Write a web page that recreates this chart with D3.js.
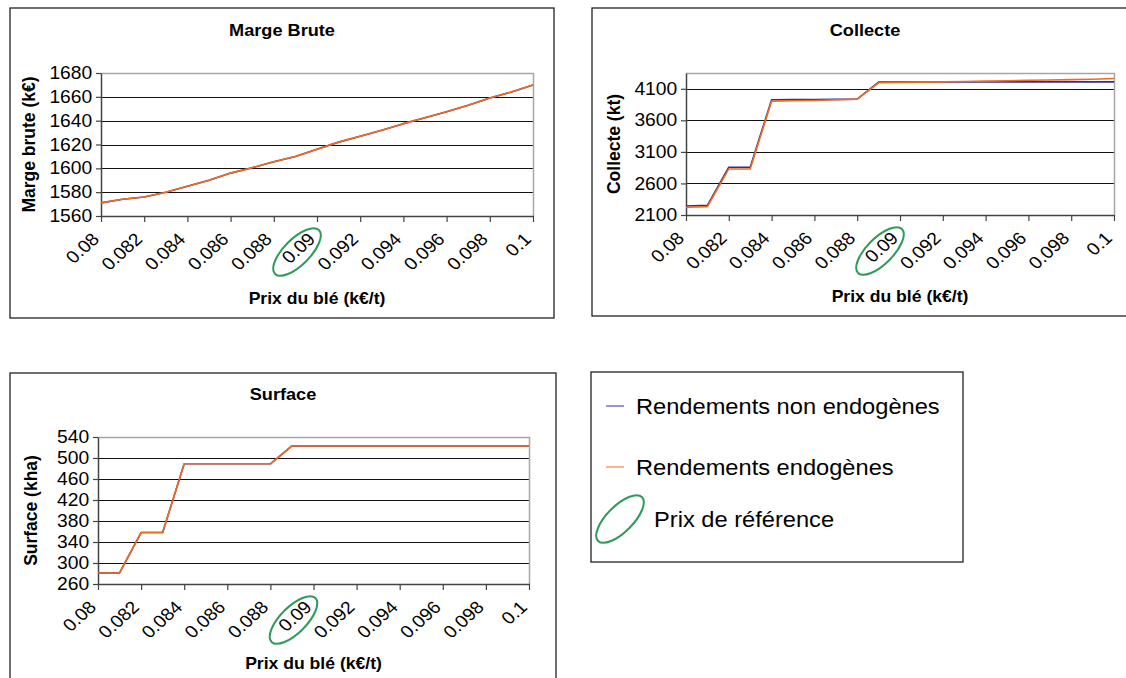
<!DOCTYPE html>
<html lang="fr">
<head>
  <meta charset="UTF-8" />
  <title>Prix du blé - Marge brute, Collecte, Surface</title>
  <script src="https://d3js.org/d3.v7.min.js"></script>
  <style>
    body {
      margin: 0;
      background: #fff;
      font-family: 'Liberation Sans', Arial, sans-serif;
    }
    svg text { font-family: 'Liberation Sans', Arial, sans-serif; fill: #000; }
  </style>
</head>
<body>
  <svg id="chart" width="1126" height="678"></svg>

  <script>
    // --- data ---
    const prix = [0.080, 0.081, 0.082, 0.083, 0.084, 0.085, 0.086, 0.087, 0.088, 0.089, 0.090,
                  0.091, 0.092, 0.093, 0.094, 0.095, 0.096, 0.097, 0.098, 0.099, 0.100];
    const xTicks = [0.08, 0.082, 0.084, 0.086, 0.088, 0.09, 0.092, 0.094, 0.096, 0.098, 0.1];
    const xTickLabels = ["0.08", "0.082", "0.084", "0.086", "0.088", "0.09", "0.092", "0.094", "0.096", "0.098", "0.1"];
    const prixReference = 0.09;

    const margeNonEndo = [1571, 1574, 1576, 1580, 1585, 1590, 1596, 1600.5, 1605.5, 1610, 1616,
                          1622, 1627, 1632, 1637.5, 1642.5, 1647.5, 1653, 1659, 1664, 1670];
    const margeEndo    = [1571, 1574, 1576, 1580, 1585, 1590, 1596, 1600.5, 1605.5, 1610, 1616,
                          1622, 1627, 1632, 1637.5, 1642.5, 1647.5, 1653, 1659, 1664, 1670];
    const margeTicks = [1560, 1580, 1600, 1620, 1640, 1660, 1680];

    const collecteNonEndo = [2243, 2254, 2857, 2857, 3925, 3928, 3930, 3932, 3936, 4206, 4207,
                             4207, 4208, 4208, 4208, 4209, 4209, 4209, 4210, 4210, 4210];
    const collecteEndo    = [2222, 2232, 2830, 2830, 3905, 3910, 3915, 3925, 3936, 4195, 4200,
                             4205, 4210, 4215, 4222, 4228, 4234, 4240, 4245, 4250, 4262];
    const collecteTicks = [2100, 2600, 3100, 3600, 4100];

    const surfaceNonEndo = [281, 281, 358, 358, 489, 489, 489, 489, 489, 523, 523,
                            523, 523, 523, 523, 523, 523, 523, 523, 523, 523];
    const surfaceEndo    = [281, 281, 358, 358, 489, 489, 489, 489, 489, 523, 523,
                            523, 523, 523, 523, 523, 523, 523, 523, 523, 523];
    const surfaceTicks = [260, 300, 340, 380, 420, 460, 500, 540];

    const seriesNames = ["Rendements non endogènes", "Rendements endogènes"];
    const colors = ["#2e2e9e", "#f26a1b"];
    const green = "#2f9a5c";

    // the original picture is a little wider than Arial, stretch text horizontally
    const SX = 1.1;

    // --- layout ---
    const panels = [
      { title: "Marge Brute", yLabel: "Marge brute (k€)", series: [margeNonEndo, margeEndo],
        yTicks: margeTicks, yDomain: [1560, 1680],
        frame: { x0: 10, y0: 8, x1: 554, y1: 318 }, plot: { x0: 101, y0: 73, x1: 533, y1: 216 },
        titleY: 36, yLabelX: 28, xLabelY: 304 },
      { title: "Collecte", yLabel: "Collecte (kt)", series: [collecteNonEndo, collecteEndo],
        yTicks: collecteTicks, yDomain: [2100, 4350],
        frame: { x0: 592, y0: 8, x1: 1140, y1: 316 }, plot: { x0: 686, y0: 73, x1: 1114, y1: 215 },
        titleY: 36, yLabelX: 613, xLabelY: 302 },
      { title: "Surface", yLabel: "Surface (kha)", series: [surfaceNonEndo, surfaceEndo],
        yTicks: surfaceTicks, yDomain: [260, 540],
        frame: { x0: 10, y0: 373, x1: 556, y1: 700 }, plot: { x0: 98, y0: 437, x1: 529, y1: 584 },
        titleY: 400, yLabelX: 30, xLabelY: 669 }
    ];

    const svg = d3.select("#chart");

    function label(parent, x, y, str, size, weight, anchor, rot) {
      return parent.append("text")
        .attr("transform", `translate(${x},${y}) scale(${SX},1)` + (rot ? ` rotate(${rot})` : ""))
        .attr("text-anchor", anchor || "middle")
        .attr("font-size", size)
        .attr("font-weight", weight || "normal")
        .text(str);
    }

    panels.forEach(p => {
      const g = svg.append("g");

      g.append("rect")
        .attr("x", p.frame.x0).attr("y", p.frame.y0)
        .attr("width", p.frame.x1 - p.frame.x0).attr("height", p.frame.y1 - p.frame.y0)
        .attr("fill", "#fff").attr("stroke", "#222").attr("stroke-width", 1.3);

      const x = d3.scaleLinear().domain([0.08, 0.1]).range([p.plot.x0, p.plot.x1]);
      const y = d3.scaleLinear().domain(p.yDomain).range([p.plot.y1, p.plot.y0]);

      // gridlines
      g.selectAll(".grid")
        .data(p.yTicks.filter(t => t !== p.yDomain[0]))
        .join("line")
        .attr("x1", p.plot.x0).attr("x2", p.plot.x1)
        .attr("y1", d => Math.round(y(d)) + 0.5).attr("y2", d => Math.round(y(d)) + 0.5)
        .attr("stroke", "#111").attr("stroke-width", 1);

      // plot border (top and right, grey)
      g.append("path")
        .attr("d", `M${p.plot.x0},${p.plot.y0 + 0.5}H${p.plot.x1 + 0.5}V${p.plot.y1}`)
        .attr("fill", "none").attr("stroke", "#a6a6a6").attr("stroke-width", 1.5);

      // y axis
      const yAxis = g.append("g")
        .attr("transform", `translate(${p.plot.x0},0)`)
        .call(d3.axisLeft(y).tickValues(p.yTicks).tickFormat(d3.format("d"))
          .tickSize(5).tickSizeOuter(0).tickPadding(3));
      yAxis.select(".domain").attr("stroke", "#444").attr("stroke-width", 1.5);
      yAxis.selectAll(".tick line").attr("stroke", "#444").attr("stroke-width", 1.2);
      yAxis.selectAll(".tick text")
        .attr("font-size", 17.5).attr("fill", "#000")
        .attr("transform", `scale(${SX},1)`);

      // x axis
      const xAxis = g.append("g")
        .attr("transform", `translate(0,${p.plot.y1})`)
        .call(d3.axisBottom(x).tickValues(xTicks).tickSize(6).tickSizeOuter(0)
          .tickFormat((d, i) => xTickLabels[i]));
      xAxis.select(".domain").attr("stroke", "#444").attr("stroke-width", 1.5);
      xAxis.selectAll(".tick line").attr("stroke", "#444").attr("stroke-width", 1.2);
      xAxis.selectAll(".tick text")
        .attr("font-size", 17.5).attr("fill", "#000")
        .attr("text-anchor", "end")
        .attr("x", 0).attr("y", 0).attr("dy", "0.35em")
        .attr("transform", `translate(-6,20) scale(${SX},1) rotate(-45)`);

      // series lines
      const line = d3.line().x((d, i) => x(prix[i])).y(d => y(d));
      p.series.forEach((s, k) => {
        g.append("path")
          .datum(s)
          .attr("fill", "none")
          .attr("stroke", colors[k])
          .attr("stroke-width", 1.6)
          .attr("stroke-linejoin", "round")
          .attr("d", line);
      });

      // reference price ellipse around the 0.09 label
      g.append("ellipse")
        .attr("transform", `translate(${x(prixReference) - 20},${p.plot.y1 + 36}) rotate(-45)`)
        .attr("rx", 31).attr("ry", 13)
        .attr("fill", "none").attr("stroke", green).attr("stroke-width", 2);

      // titles
      label(g, (p.frame.x0 + p.frame.x1) / 2 - (p.frame.x1 > 1126 ? 1 : 0), p.titleY,
        p.title, 16.5, "bold");
      label(g, p.yLabelX + 7, (p.plot.y0 + p.plot.y1) / 2, p.yLabel, 17.5, "bold", "middle", -90);
      label(g, (p.plot.x0 + p.plot.x1) / 2, p.xLabelY, "Prix du blé (k€/t)", 16, "bold");
    });

    // legend
    const leg = svg.append("g");
    leg.append("rect")
      .attr("x", 591).attr("y", 372).attr("width", 372).attr("height", 190)
      .attr("fill", "#fff").attr("stroke", "#222").attr("stroke-width", 1.3);

    const legY = d3.scalePoint().domain(seriesNames).range([406, 467]);
    seriesNames.forEach((name, k) => {
      leg.append("line")
        .attr("x1", 606).attr("x2", 624)
        .attr("y1", legY(name)).attr("y2", legY(name))
        .attr("stroke", colors[k]).attr("stroke-opacity", 0.7).attr("stroke-width", 1.4);
      label(leg, 636, legY(name) + 8, name, 21.5, "normal", "start");
    });
    leg.append("ellipse")
      .attr("transform", "translate(620,519) rotate(-45)")
      .attr("rx", 31).attr("ry", 13)
      .attr("fill", "none").attr("stroke", green).attr("stroke-width", 2);
    label(leg, 654, 527, "Prix de référence", 21.5, "normal", "start");
  </script>
</body>
</html>
